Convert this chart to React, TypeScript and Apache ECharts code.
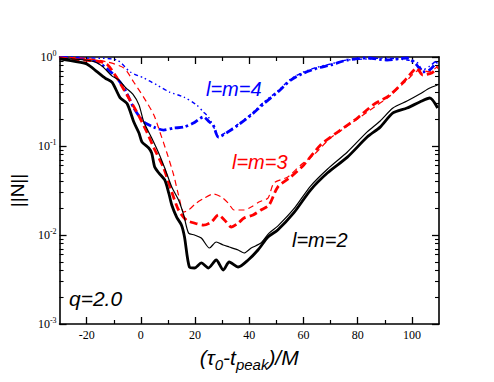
import React, { useEffect, useRef } from "react";
import * as echarts from "echarts";

// (tau0 - tpeak)/M , ||N||
const l2Thick: [number, number][] = [
  [-30, 0.95], [-23.4, 0.88], [-19.8, 0.83], [-16.1, 0.68], [-13.2, 0.58], [-10.6, 0.52],
  [-7.7, 0.35], [-5.1, 0.3], [-2.6, 0.186], [-0.7, 0.14], [0.4, 0.111], [2.9, 0.095],
  [4.0, 0.083], [5.1, 0.058], [6.6, 0.05], [8.8, 0.0415], [10.3, 0.0296], [11.4, 0.0217],
  [13.2, 0.0159], [15.0, 0.0129], [16.1, 0.0095], [17.9, 0.00437], [19.8, 0.00426],
  [22.3, 0.00485], [24.9, 0.00426], [27.8, 0.00524], [30.4, 0.00404], [32.6, 0.00497],
  [35.9, 0.00437], [39.6, 0.00524], [43.2, 0.00678], [46.9, 0.0095], [50.5, 0.0114],
  [56.4, 0.0177], [62.6, 0.032], [68.9, 0.05], [76.2, 0.075], [83.5, 0.126], [88.3, 0.163],
  [93.0, 0.235], [98.2, 0.267], [102.9, 0.312], [106.6, 0.346], [109.5, 0.267],
];

const l2Thin: [number, number][] = [
  [-30, 0.975], [-17.9, 0.9], [-14.3, 0.79], [-10.6, 0.61], [-8.1, 0.55], [-5.5, 0.45],
  [-2.9, 0.38], [-0.7, 0.29], [1.1, 0.186], [4.0, 0.123], [6.6, 0.083], [8.8, 0.0566],
  [11.4, 0.0346], [13.9, 0.0247], [15.8, 0.0168], [17.6, 0.0105], [19.8, 0.01],
  [22.3, 0.00925], [25.3, 0.00714], [27.8, 0.00834], [30.4, 0.00772], [32.6, 0.00733],
  [35.9, 0.00678], [38.1, 0.00628], [40.7, 0.00714], [44.3, 0.00813], [47.3, 0.0105],
  [50.5, 0.0126], [56.4, 0.0196], [62.6, 0.0355], [68.9, 0.0552], [76.2, 0.0857],
  [83.5, 0.144], [88.3, 0.191], [93.0, 0.267], [98.2, 0.32], [102.9, 0.384], [106.6, 0.449],
  [109.5, 0.485],
];

const l3Thick: [number, number][] = [
  [-30, 0.975], [-21.6, 0.925], [-16.1, 0.9], [-12.5, 0.83], [-8.8, 0.58], [-5.1, 0.374],
  [-1.5, 0.241], [2.2, 0.144], [4.8, 0.095], [8.4, 0.0566], [11.4, 0.0304], [13.9, 0.0191],
  [16.8, 0.0147], [19.8, 0.0136], [23.1, 0.0129], [26.0, 0.014], [28.6, 0.0168],
  [31.5, 0.014], [33.3, 0.0123], [35.9, 0.0136], [38.1, 0.0155], [41.4, 0.0168],
  [44.3, 0.0191], [47.3, 0.0217], [50.5, 0.0346], [55.3, 0.0449], [60.1, 0.0612],
  [66.3, 0.1026], [73.6, 0.151], [79.9, 0.206], [85.7, 0.29], [91.9, 0.374], [98.2, 0.58],
  [101.8, 0.75], [104.0, 0.628], [107.3, 0.66], [109.5, 0.77],
];

const l3Thin: [number, number][] = [
  [-30, 0.99], [-21.6, 0.975], [-12.5, 0.88], [-6.2, 0.75], [-2.6, 0.52], [1.1, 0.35],
  [4.8, 0.223], [7.0, 0.144], [9.5, 0.0857], [12.1, 0.0472], [13.9, 0.0281], [15.8, 0.0181],
  [17.6, 0.0191], [20.5, 0.0229], [23.4, 0.026], [26.7, 0.0289], [29.7, 0.0267],
  [32.2, 0.0229], [34.4, 0.0191], [38.1, 0.0191], [40.7, 0.0206], [43.6, 0.0235],
  [46.9, 0.026], [49.1, 0.0384], [54.2, 0.0449], [59.0, 0.0612], [63.7, 0.079], [70.0, 0.123],
  [77.3, 0.177], [84.6, 0.254], [91.9, 0.365], [98.2, 0.55], [102.9, 0.715], [106.6, 0.68],
  [109.5, 0.79],
];

const l4Thick: [number, number][] = [
  [-30, 0.99], [-23.4, 0.975], [-16.1, 0.88], [-9.9, 0.628], [-6.2, 0.449], [-2.6, 0.267],
  [1.1, 0.186], [4.8, 0.163], [8.4, 0.151], [12.1, 0.159], [15.8, 0.163], [19.4, 0.181],
  [23.1, 0.212], [25.3, 0.186], [26.7, 0.172], [28.6, 0.126], [32.2, 0.144], [35.9, 0.172],
  [40.7, 0.223], [45.4, 0.3], [50.5, 0.404], [55.3, 0.55], [60.1, 0.66], [65.2, 0.75],
  [70.0, 0.813], [76.2, 0.925], [83.5, 0.975], [90.8, 0.925], [98.2, 0.975], [101.8, 0.813],
  [104.0, 0.68], [106.6, 0.715], [109.2, 0.88],
];

const l4Thin: [number, number][] = [
  [-30, 0.99], [-18.7, 0.975], [-8.8, 0.925], [-4.0, 0.68], [1.1, 0.58], [5.9, 0.485],
  [10.6, 0.404], [15.8, 0.355], [20.5, 0.29], [23.1, 0.241], [24.9, 0.212], [26.7, 0.168],
  [28.6, 0.129], [32.2, 0.147], [35.9, 0.176], [40.7, 0.229], [45.4, 0.312], [50.5, 0.415],
  [55.3, 0.566], [60.1, 0.68], [65.2, 0.77], [70.0, 0.835], [76.2, 0.925], [83.5, 0.95],
  [90.8, 0.975], [98.2, 0.925], [101.8, 0.88], [104.0, 0.715], [106.6, 0.79], [109.2, 0.925],
];

const xMajorTicks = [-20, 0, 20, 40, 60, 80, 100];
const xMinorTicks = [-10, 10, 30, 50, 70, 90];
const yDecadeExps = [-3, -2, -1];
const minorMantissas = [2, 3, 4, 5, 6, 7, 8, 9];

const SERIF = '"Liberation Serif", "DejaVu Serif", serif';
const SANS = '"Liberation Sans", Arial, sans-serif';

export default function App() {
  const ref = useRef<HTMLDivElement>(null);
  useEffect(() => {
    if (!ref.current) return;
    const chart = echarts.init(ref.current, undefined, { renderer: "svg" });
    const yMinorLog: number[] = [];
    yDecadeExps.forEach((e) => minorMantissas.forEach((k) => yMinorLog.push(e + Math.log10(k))));

    const axisLine = { show: true, onZero: false, lineStyle: { color: "#000", width: 1.6 } };
    const noLine = { show: false, onZero: false };
    const xBase = { type: "value" as const, min: -30, max: 110, splitLine: { show: false } };

    const lineS = (name: string, data: [number, number][], color: string, width: number, type: any) => ({
      name,
      type: "line",
      data,
      showSymbol: false,
      symbol: "none",
      smooth: 0.25,
      xAxisIndex: 0,
      yAxisIndex: 0,
      lineStyle: { color, width, type },
      z: 3,
    });

    chart.setOption({
      animation: false,
      grid: { left: 57, right: 55, top: 57, bottom: 58 },
      xAxis: [
        {
          ...xBase,
          position: "bottom",
          axisLine,
          axisTick: { show: true, inside: true, length: 7, customValues: xMajorTicks, lineStyle: { color: "#000", width: 1.3 } },
          axisLabel: {
            customValues: xMajorTicks,
            margin: 5,
            color: "#000",
            fontFamily: SERIF,
            fontSize: 12,
          },
          name: "{a|(τ}{s|0}{a|-t}{s|peak}{a|)/M}",
          nameLocation: "middle",
          nameGap: 18,
          nameTextStyle: {
            rich: {
              a: { fontFamily: SANS, fontStyle: "italic", fontSize: 21, lineHeight: 30, color: "#000" },
              s: { fontFamily: SANS, fontStyle: "italic", fontSize: 15, lineHeight: 15, verticalAlign: "bottom", color: "#000" },
            },
          },
        },
        {
          ...xBase,
          position: "bottom",
          axisLine: noLine,
          axisTick: { show: true, inside: true, length: 4, customValues: xMinorTicks, lineStyle: { color: "#000", width: 1.2 } },
          axisLabel: { show: false },
        },
        {
          ...xBase,
          position: "top",
          axisLine,
          axisTick: { show: true, inside: true, length: 7, customValues: xMajorTicks, lineStyle: { color: "#000", width: 1.3 } },
          axisLabel: { show: false },
        },
        {
          ...xBase,
          position: "top",
          axisLine: noLine,
          axisTick: { show: true, inside: true, length: 4, customValues: xMinorTicks, lineStyle: { color: "#000", width: 1.2 } },
          axisLabel: { show: false },
        },
      ],
      yAxis: [
        {
          type: "log",
          logBase: 10,
          min: 0.001,
          max: 1,
          position: "left",
          splitLine: { show: false },
          axisLine,
          axisTick: { show: true, inside: true, length: 7, lineStyle: { color: "#000", width: 1.3 } },
          axisLabel: {
            margin: 3,
            color: "#000",
            formatter: (v: number) => `{n|10}{e|${Math.round(Math.log10(v))}}`,
            rich: {
              n: { fontFamily: SERIF, fontSize: 12, lineHeight: 15, color: "#000" },
              e: { fontFamily: SERIF, fontSize: 8, lineHeight: 8, verticalAlign: "top", color: "#000" },
            },
          },
          name: "||N||",
          nameLocation: "middle",
          nameGap: 28,
          nameTextStyle: { fontFamily: SANS, fontSize: 19, color: "#000" },
        },
        {
          type: "value",
          min: -3,
          max: 0,
          position: "left",
          splitLine: { show: false },
          axisLine: noLine,
          axisTick: { show: true, inside: true, length: 4, customValues: yMinorLog, lineStyle: { color: "#000", width: 1.1 } },
          axisLabel: { show: false },
        },
        {
          type: "log",
          logBase: 10,
          min: 0.001,
          max: 1,
          position: "right",
          splitLine: { show: false },
          axisLine,
          axisTick: { show: true, inside: true, length: 7, lineStyle: { color: "#000", width: 1.3 } },
          axisLabel: { show: false },
        },
        {
          type: "value",
          min: -3,
          max: 0,
          position: "right",
          splitLine: { show: false },
          axisLine: noLine,
          axisTick: { show: true, inside: true, length: 4, customValues: yMinorLog, lineStyle: { color: "#000", width: 1.1 } },
          axisLabel: { show: false },
        },
      ],
      series: [
        lineS("l=m=4 thin", l4Thin, "#0000ff", 1.4, [4, 3, 1.5, 3, 1.5, 3]),
        lineS("l=m=4", l4Thick, "#0000ff", 2.8, [8, 3, 2.5, 3]),
        lineS("l=m=3 thin", l3Thin, "#ff0000", 1.2, [6, 4]),
        lineS("l=m=3", l3Thick, "#ff0000", 2.8, [8, 4]),
        lineS("l=m=2 thin", l2Thin, "#000000", 1.2, "solid"),
        lineS("l=m=2", l2Thick, "#000000", 2.8, "solid"),
      ],
      graphic: [
        { type: "text", x: 206, y: 89, z: 10, style: { text: "l=m=4", fill: "#0000ff", font: `italic 20px ${SANS}`, align: "left", verticalAlign: "middle", textAlign: "left", textVerticalAlign: "middle" } },
        { type: "text", x: 232, y: 162, z: 10, style: { text: "l=m=3", fill: "#ff0000", font: `italic 20px ${SANS}`, align: "left", verticalAlign: "middle", textAlign: "left", textVerticalAlign: "middle" } },
        { type: "text", x: 292, y: 240, z: 10, style: { text: "l=m=2", fill: "#000000", font: `italic 20px ${SANS}`, align: "left", verticalAlign: "middle", textAlign: "left", textVerticalAlign: "middle" } },
        { type: "text", x: 69, y: 298, z: 10, style: { text: "q=2.0", fill: "#000000", font: `italic 21px ${SANS}`, align: "left", verticalAlign: "middle", textAlign: "left", textVerticalAlign: "middle" } },
      ],
    });
    return () => chart.dispose();
  }, []);
  return <div ref={ref} style={{ position: "absolute", left: 0, top: 0, width: 494, height: 382 }} />;
}
